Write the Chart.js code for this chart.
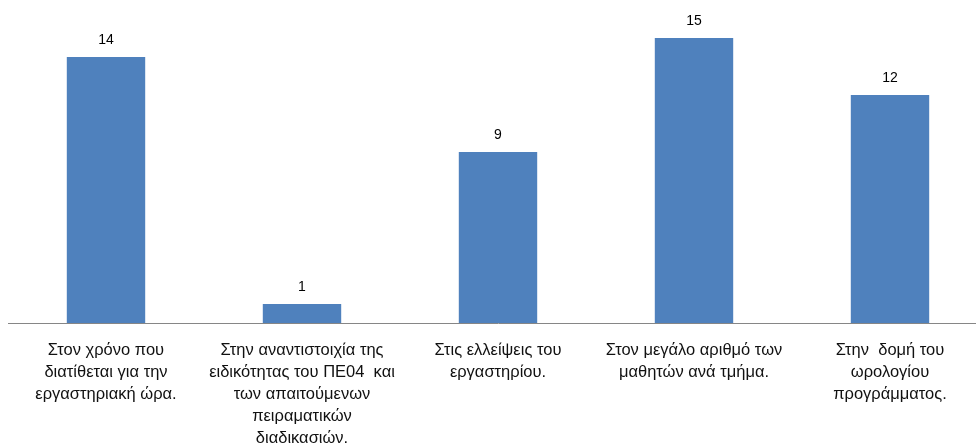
<!DOCTYPE html>
<html><head><meta charset="utf-8">
<script src="https://cdn.jsdelivr.net/npm/chart.js@4/dist/chart.umd.min.js"></script>
<style>html,body{margin:0;padding:0;overflow:hidden;background:#fff;width:976px;height:447px}</style>
</head><body>
<canvas id="c" width="990" height="447"></canvas>
<script>
const categories = [
  ["Στον χρόνο που", "διατίθεται για την", "εργαστηριακή ώρα."],
  ["Στην αναντιστοιχία της", "ειδικότητας του ΠΕ04  και", "των απαιτούμενων", "πειραματικών", "διαδικασιών."],
  ["Στις ελλείψεις του", "εργαστηρίου."],
  ["Στον μεγάλο αριθμό των", "μαθητών ανά τμήμα."],
  ["Στην  δομή του", "ωρολογίου", "προγράμματος."]
];
const values = [14, 1, 9, 15, 12];

const labelPlugin = {
  id: 'vals',
  afterDatasetsDraw(chart) {
    const ctx = chart.ctx;
    const meta = chart.getDatasetMeta(0);
    ctx.save();
    ctx.font = '14px "Liberation Sans", sans-serif';
    ctx.fillStyle = '#000';
    ctx.textAlign = 'center';
    ctx.textBaseline = 'middle';
    meta.data.forEach((bar, i) => {
      ctx.fillText(String(values[i]), bar.x, bar.y - 17);
    });
    ctx.restore();
  }
};

new Chart(document.getElementById('c'), {
  type: 'bar',
  data: {
    labels: categories,
    datasets: [{
      data: values,
      backgroundColor: '#4F81BD',
      borderWidth: 0,
      barPercentage: 1,
      categoryPercentage: 0.4
    }]
  },
  options: {
    responsive: false,
    animation: false,
    layout: { padding: { left: 8, right: 2, top: 19, bottom: 0 } },
    plugins: { legend: { display: false }, tooltip: { enabled: false } },
    scales: {
      x: {
        grid: { display: false },
        border: { display: true, color: '#868686', width: 1 },
        ticks: {
          maxRotation: 0, autoSkip: false, padding: 8,
          color: '#111',
          font: { family: '"Liberation Sans", sans-serif', size: 16.5, lineHeight: 1.333 }
        },
        afterFit(scale) { scale.height = 124; }
      },
      y: { display: false, min: 0, max: 16 }
    }
  },
  plugins: [labelPlugin]
});
</script>
</body></html>
